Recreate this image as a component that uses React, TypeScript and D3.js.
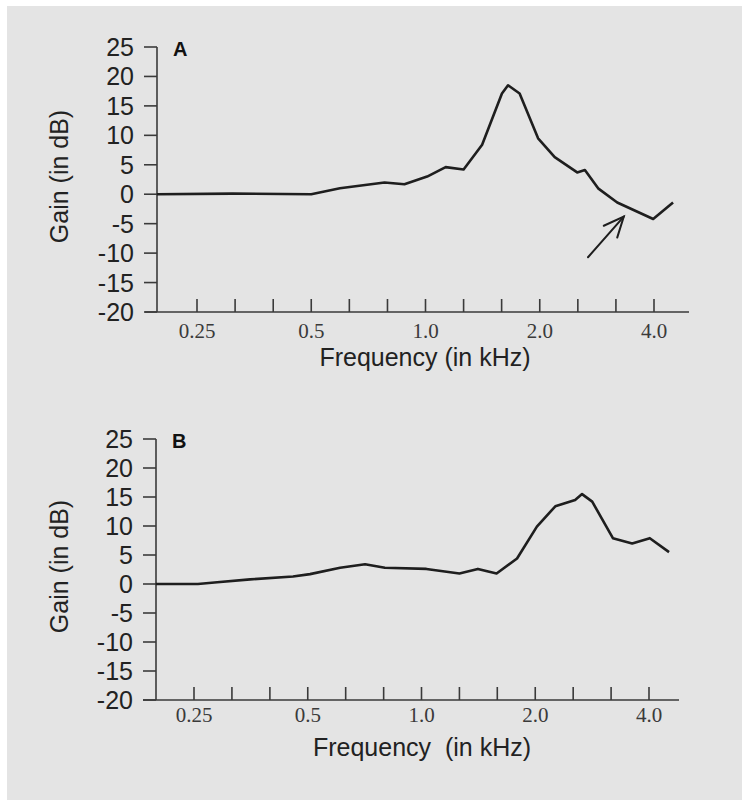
import * as d3 from 'd3';

// third-octave ticks, 0.25 .. 4 kHz
const freqTicks = [0.25, 0.315, 0.397, 0.5, 0.63, 0.794, 1.0, 1.26, 1.587, 2.0, 2.52, 3.175, 4.0];
const freqLabelValues = [0.25, 0.5, 1, 2, 4];
const freqLabelText = ['0.25', '0.5', '1.0', '2.0', '4.0'];
const gainTicks = [-20, -15, -10, -5, 0, 5, 10, 15, 20, 25];

// panel A
const freqA = [0.196, 0.31, 0.5, 0.595, 0.78, 0.88, 1.01, 1.13, 1.26, 1.41, 1.59, 1.65, 1.77, 1.98, 2.19, 2.51, 2.63, 2.85, 3.2, 3.98, 4.49];
const gainA = [0, 0.1, 0, 1.0, 2.0, 1.7, 3.0, 4.6, 4.2, 8.4, 17.1, 18.5, 17.1, 9.5, 6.3, 3.7, 4.1, 1.0, -1.4, -4.2, -1.4];

// arrow in panel A (tail -> head)
const arrowFreq = [2.68, 3.33];
const arrowGain = [-10.7, -3.8];

// panel B
const freqB = [0.198, 0.256, 0.288, 0.352, 0.457, 0.507, 0.609, 0.709, 0.8, 1.03, 1.26, 1.41, 1.58, 1.79, 2.02, 2.26, 2.55, 2.66, 2.83, 3.21, 3.61, 4.02, 4.52];
const gainB = [0, 0, 0.3, 0.8, 1.3, 1.7, 2.8, 3.4, 2.8, 2.6, 1.8, 2.6, 1.8, 4.4, 9.9, 13.4, 14.5, 15.5, 14.2, 7.9, 7.0, 7.9, 5.5];

const W = 742;
const H = 802;
const SANS = 'Liberation Sans, Arial, sans-serif';
const SERIF = 'Liberation Serif, Times New Roman, serif';
const INK = '#1e1e1e';
const AXIS = '#3a3a3a';

interface PanelProps {
  letter: string;
  freq: number[];
  gain: number[];
  top: number;
  bottom: number;
  yAxisX: number;
  x0: number;
  x1: number;
  lineStart: number;
  lineEnd: number;
  tickLabelY: number;
  titleY: number;
  titleX: number;
  title: string;
  arrow?: boolean;
}

const Panel = (p: PanelProps) => {
  const x = d3.scaleLog().base(2).domain([0.25, 4]).range([p.x0, p.x1]);
  const y = d3.scaleLinear().domain([-20, 25]).range([p.bottom, p.top]);
  const line = d3
    .line<number>()
    .x((_, i) => x(p.freq[i]))
    .y((g) => y(g));

  let arrowEl = null;
  if (p.arrow) {
    const tx = x(arrowFreq[0]);
    const ty = y(arrowGain[0]);
    const hx = x(arrowFreq[1]);
    const hy = y(arrowGain[1]);
    const ang = Math.atan2(ty - hy, tx - hx);
    const len = 22;
    const spread = (24 * Math.PI) / 180;
    const b1 = [hx + len * Math.cos(ang - spread), hy + len * Math.sin(ang - spread)];
    const b2 = [hx + len * Math.cos(ang + spread), hy + len * Math.sin(ang + spread)];
    arrowEl = (
      <g stroke={INK} strokeWidth={2} fill="none" strokeLinecap="round">
        <line x1={tx} y1={ty} x2={hx} y2={hy} />
        <polyline points={`${b1[0]},${b1[1]} ${hx},${hy} ${b2[0]},${b2[1]}`} />
      </g>
    );
  }

  return (
    <g>
      {/* y axis */}
      <line x1={p.yAxisX} x2={p.yAxisX} y1={y(25)} y2={y(-20)} stroke={AXIS} strokeWidth={1.6} />
      {gainTicks.map((g) => (
        <g key={g}>
          <line x1={p.yAxisX - 13} x2={p.yAxisX} y1={y(g)} y2={y(g)} stroke={AXIS} strokeWidth={1.6} />
          <text
            x={p.yAxisX - 23}
            y={y(g)}
            dy="0.36em"
            textAnchor="end"
            fontFamily={SANS}
            fontSize={25}
            fill="#222"
          >
            {g}
          </text>
        </g>
      ))}
      {/* x axis */}
      <line x1={p.lineStart} x2={p.lineEnd} y1={y(-20)} y2={y(-20)} stroke={AXIS} strokeWidth={1.6} />
      {freqTicks.map((f) => (
        <line key={f} x1={x(f)} x2={x(f)} y1={y(-20)} y2={y(-20) - 13} stroke={AXIS} strokeWidth={1.6} />
      ))}
      {freqLabelValues.map((f, i) => (
        <text key={f} x={x(f)} y={p.tickLabelY} textAnchor="middle" fontFamily={SERIF} fontSize={21} fill="#3a3a3a">
          {freqLabelText[i]}
        </text>
      ))}
      <text
        x={p.titleX}
        y={p.titleY}
        textAnchor="middle"
        fontFamily={SANS}
        fontSize={25}
        fill="#222"
        style={{ whiteSpace: 'pre' }}
      >
        {p.title}
      </text>
      <text
        transform={`translate(68, ${(y(25) + y(-20)) / 2 - 3}) rotate(-90)`}
        textAnchor="middle"
        fontFamily={SANS}
        fontSize={25}
        fill="#222"
      >
        Gain (in dB)
      </text>
      <text x={p.yAxisX + 16} y={y(25) + 9} fontFamily={SANS} fontSize={20} fontWeight="bold" fill="#111">
        {p.letter}
      </text>
      <path d={line(p.gain) ?? ''} fill="none" stroke={INK} strokeWidth={2.6} strokeLinejoin="round" />
      {arrowEl}
    </g>
  );
};

export default function App() {
  return (
    <svg width={W} height={H} viewBox={`0 0 ${W} ${H}`} style={{ position: 'absolute', left: 0, top: 0 }}>
      <rect x={0} y={0} width={W} height={H} fill="#ffffff" />
      <rect x={7} y={6} width={W - 7} height={794} fill="#e4e4e4" />
      <Panel
        letter="A"
        freq={freqA}
        gain={gainA}
        top={47}
        bottom={312}
        yAxisX={157}
        x0={197}
        x1={654}
        lineStart={145}
        lineEnd={689}
        tickLabelY={338}
        titleY={366}
        titleX={425}
        title="Frequency (in kHz)"
        arrow
      />
      <Panel
        letter="B"
        freq={freqB}
        gain={gainB}
        top={439}
        bottom={700}
        yAxisX={156}
        x0={194}
        x1={649}
        lineStart={143}
        lineEnd={679}
        tickLabelY={722}
        titleY={756}
        titleX={422}
        title="Frequency  (in kHz)"
      />
    </svg>
  );
}
